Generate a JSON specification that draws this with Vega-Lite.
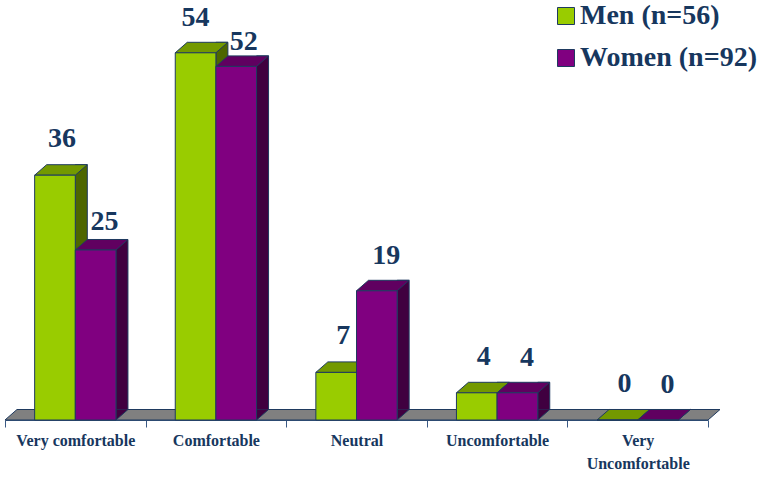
{
  "$schema": "https://vega.github.io/schema/vega-lite/v6.json",
  "width": 703,
  "height": 408,
  "autosize": "none",
  "padding": {"left": 5, "top": 12, "right": 59, "bottom": 57},
  "background": "white",
  "config": {
    "view": {"stroke": null},
    "font": "Liberation Serif",
    "axis": {
      "title": null,
      "grid": false,
      "zindex": 1,
      "domainColor": "#3b5a85",
      "domainWidth": 1,
      "tickColor": "#3b5a85",
      "tickSize": 7,
      "tickBand": "extent",
      "labelFont": "Liberation Serif",
      "labelFontSize": 16,
      "labelFontWeight": "bold",
      "labelColor": "#17375e",
      "labelPadding": 5,
      "labelAngle": 0,
      "labelLimit": 0,
      "labelLineHeight": 23
    },
    "legend": {
      "orient": "none",
      "legendX": 547,
      "legendY": -10,
      "title": null,
      "padding": 0,
      "symbolType": "square",
      "symbolSize": 289,
      "symbolStrokeColor": "#1f3a5f",
      "symbolStrokeWidth": 1,
      "symbolOpacity": 1,
      "symbolOffset": 0,
      "labelFont": "Liberation Serif",
      "labelFontSize": 28,
      "labelFontWeight": "bold",
      "labelColor": "#17375e",
      "labelLimit": 0,
      "labelOffset": 0,
      "rowPadding": 14
    }
  },
  "data": {
    "values": [
      {"rating": "Very comfortable", "group": "Men (n=56)", "pct": 36},
      {"rating": "Very comfortable", "group": "Women (n=92)", "pct": 25},
      {"rating": "Comfortable", "group": "Men (n=56)", "pct": 54},
      {"rating": "Comfortable", "group": "Women (n=92)", "pct": 52},
      {"rating": "Neutral", "group": "Men (n=56)", "pct": 7},
      {"rating": "Neutral", "group": "Women (n=92)", "pct": 19},
      {"rating": "Uncomfortable", "group": "Men (n=56)", "pct": 4},
      {"rating": "Uncomfortable", "group": "Women (n=92)", "pct": 4},
      {"rating": "Very Uncomfortable", "group": "Men (n=56)", "pct": 0},
      {"rating": "Very Uncomfortable", "group": "Women (n=92)", "pct": 0}
    ]
  },
  "encoding": {
    "x": {
      "field": "rating",
      "type": "nominal",
      "scale": {
        "domain": ["Very comfortable", "Comfortable", "Neutral", "Uncomfortable", "Very Uncomfortable"],
        "paddingInner": 0,
        "paddingOuter": 0
      },
      "axis": {
        "labelExpr": "datum.value === 'Very Uncomfortable' ? ['Very', 'Uncomfortable'] : datum.value"
      }
    },
    "y": {
      "field": "pct",
      "type": "quantitative",
      "scale": {"domain": [0, 60]},
      "axis": null
    }
  },
  "layer": [
    {
      "transform": [{"filter": "datum.rating === 'Neutral' && datum.group === 'Men (n=56)'"}],
      "mark": {
        "type": "point",
        "shape": "M -0.96699 0 L 0.96699 0 L 1 -0.028886 L -0.93398 -0.028886 Z",
        "size": 528529,
        "filled": true,
        "fill": "#808080",
        "stroke": "#1f3a5f",
        "strokeWidth": 1,
        "opacity": 1
      },
      "encoding": {"y": {"datum": 0, "type": "quantitative", "scale": {"domain": [0, 60]}}}
    },
    {
      "transform": [{"filter": "datum.group === 'Men (n=56)'"}],
      "mark": {"type": "bar", "width": 12, "xOffset": 6, "yOffset": -10.5, "y2Offset": -10.5, "fill": "#4d6600", "stroke": "#1f3a5f", "strokeWidth": 1},
      "encoding": {"y2": {"datum": 0}}
    },
    {
      "transform": [{"filter": "datum.group === 'Men (n=56)'"}],
      "mark": {"type": "point", "shape": "M 0 -0.875 L 0 0 L 1 -0.875", "size": 576, "xOffset": 0, "filled": true, "fill": "#4d6600", "stroke": "#1f3a5f", "strokeWidth": 1, "opacity": 1},
      "encoding": {"y": {"datum": 0, "type": "quantitative", "scale": {"domain": [0, 60]}}}
    },
    {
      "transform": [{"filter": "datum.group === 'Men (n=56)'"}],
      "mark": {"type": "point", "shape": "M -0.62877 0 L 0.62877 0 L 1 -0.32483 L -0.25754 -0.32483 Z", "size": 4180, "xOffset": -20.325, "filled": true, "fill": "#739900", "stroke": "#1f3a5f", "strokeWidth": 1, "opacity": 1}
    },
    {
      "transform": [{"filter": "datum.group === 'Men (n=56)'"}],
      "mark": {"type": "bar", "width": 40.65, "xOffset": -20.325, "stroke": "#1f3a5f", "strokeWidth": 1, "opacity": 1},
      "encoding": {
        "color": {
          "field": "group",
          "type": "nominal",
          "scale": {"domain": ["Men (n=56)", "Women (n=92)"], "range": ["#99cc00", "#800080"]}
        }
      }
    },
    {
      "transform": [{"filter": "datum.group === 'Women (n=92)'"}],
      "mark": {"type": "bar", "width": 12, "xOffset": 46.65, "yOffset": -10.5, "y2Offset": -10.5, "fill": "#400040", "stroke": "#1f3a5f", "strokeWidth": 1},
      "encoding": {"y2": {"datum": 0}}
    },
    {
      "transform": [{"filter": "datum.group === 'Women (n=92)'"}],
      "mark": {"type": "point", "shape": "M 0 -0.875 L 0 0 L 1 -0.875", "size": 576, "xOffset": 40.65, "filled": true, "fill": "#400040", "stroke": "#1f3a5f", "strokeWidth": 1, "opacity": 1},
      "encoding": {"y": {"datum": 0, "type": "quantitative", "scale": {"domain": [0, 60]}}}
    },
    {
      "transform": [{"filter": "datum.group === 'Women (n=92)'"}],
      "mark": {"type": "point", "shape": "M -0.62877 0 L 0.62877 0 L 1 -0.32483 L -0.25754 -0.32483 Z", "size": 4180, "xOffset": 20.325, "filled": true, "fill": "#600060", "stroke": "#1f3a5f", "strokeWidth": 1, "opacity": 1}
    },
    {
      "transform": [{"filter": "datum.group === 'Women (n=92)'"}],
      "mark": {"type": "bar", "width": 40.65, "xOffset": 20.325, "stroke": "#1f3a5f", "strokeWidth": 1, "opacity": 1},
      "encoding": {
        "color": {
          "field": "group",
          "type": "nominal",
          "scale": {"domain": ["Men (n=56)", "Women (n=92)"], "range": ["#99cc00", "#800080"]}
        }
      }
    },
    {
      "transform": [{"filter": "datum.group === 'Men (n=56)' && datum.rating !== 'Comfortable'"}],
      "mark": {"type": "text", "dx": -13.3, "dy": -28, "baseline": "alphabetic", "align": "center", "font": "Liberation Serif", "fontSize": 28, "fontWeight": "bold", "color": "#17375e"},
      "encoding": {"text": {"field": "pct", "type": "quantitative"}}
    },
    {
      "transform": [{"filter": "datum.group === 'Men (n=56)' && datum.rating === 'Comfortable'"}],
      "mark": {"type": "text", "dx": -20.3, "dy": -27, "baseline": "alphabetic", "align": "center", "font": "Liberation Serif", "fontSize": 28, "fontWeight": "bold", "color": "#17375e"},
      "encoding": {"text": {"field": "pct", "type": "quantitative"}}
    },
    {
      "transform": [{"filter": "datum.group === 'Women (n=92)' && datum.rating !== 'Comfortable' && datum.rating !== 'Very comfortable'"}],
      "mark": {"type": "text", "dx": 29.8, "dy": -27, "baseline": "alphabetic", "align": "center", "font": "Liberation Serif", "fontSize": 28, "fontWeight": "bold", "color": "#17375e"},
      "encoding": {"text": {"field": "pct", "type": "quantitative"}}
    },
    {
      "transform": [{"filter": "datum.group === 'Women (n=92)' && datum.rating === 'Very comfortable'"}],
      "mark": {"type": "text", "dx": 29.3, "dy": -20, "baseline": "alphabetic", "align": "center", "font": "Liberation Serif", "fontSize": 28, "fontWeight": "bold", "color": "#17375e"},
      "encoding": {"text": {"field": "pct", "type": "quantitative"}}
    },
    {
      "transform": [{"filter": "datum.group === 'Women (n=92)' && datum.rating === 'Comfortable'"}],
      "mark": {"type": "text", "dx": 27.8, "dy": -16, "baseline": "alphabetic", "align": "center", "font": "Liberation Serif", "fontSize": 28, "fontWeight": "bold", "color": "#17375e"},
      "encoding": {"text": {"field": "pct", "type": "quantitative"}}
    }
  ]
}
